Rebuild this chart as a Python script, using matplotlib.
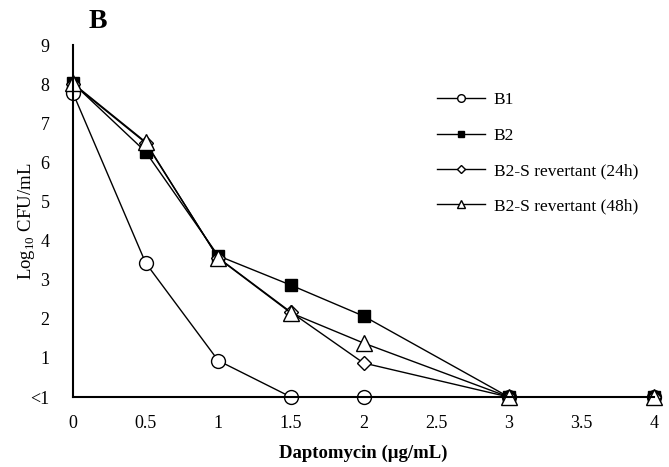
import matplotlib
matplotlib.use("Agg")
import matplotlib.pyplot as plt

plt.rcParams['font.family'] = ['Liberation Serif', 'DejaVu Serif']
plt.rcParams['mathtext.fontset'] = 'custom'
plt.rcParams['mathtext.rm'] = 'Liberation Serif'

# daptomycin concentration (ug/mL)
conc = [0, 0.5, 1, 1.5, 2, 3, 4]
# log10 CFU/mL, 0 means below detection (<1)
b1 = [7.77, 3.43, 0.93, 0, 0, 0, 0]
b2 = [8.02, 6.27, 3.61, 2.86, 2.07, 0, 0]
b2s_24 = [8.0, 6.5, 3.56, 2.17, 0.87, 0, 0]
b2s_48 = [8.02, 6.52, 3.55, 2.15, 1.38, 0, 0]

xticks = [0, 0.5, 1, 1.5, 2, 2.5, 3, 3.5, 4]
xtick_labels = ['0', '0.5', '1', '1.5', '2', '2.5', '3', '3.5', '4']
yticks = list(range(10))
ytick_labels = ['<1', '1', '2', '3', '4', '5', '6', '7', '8', '9']

fig = plt.figure(figsize=(6.69, 4.67), dpi=100)
ax = fig.add_axes([73/669, 70/467, 581/669, 352/467])

lw = 1.0
ax.plot(conc, b1, color='black', lw=lw, marker='o', ms=10, mfc='white', mec='black', mew=1.0,
        clip_on=False, label='B1')
ax.plot(conc, b2, color='black', lw=lw, marker='s', ms=9, mfc='black', mec='black',
        clip_on=False, label='B2')
ax.plot(conc, b2s_24, color='black', lw=lw, marker='D', ms=7, mfc='white', mec='black', mew=1.0,
        clip_on=False, label='B2-S revertant (24h)')
ax.plot(conc, b2s_48, color='black', lw=lw, marker='^', ms=11, mfc='white', mec='black', mew=1.0,
        clip_on=False, label='B2-S revertant (48h)')

ax.set_xlim(0, 4)
ax.set_ylim(0, 9)
ax.set_xticks(xticks)
ax.set_xticklabels(xtick_labels)
ax.set_yticks(yticks)
ax.set_yticklabels(ytick_labels)
ax.tick_params(length=0, labelsize=13)
ax.tick_params(axis='x', pad=13)
ax.tick_params(axis='y', pad=17)
for s in ['top', 'right']:
    ax.spines[s].set_visible(False)
for s in ['left', 'bottom']:
    ax.spines[s].set_linewidth(1.5)

ax.set_xlabel('Daptomycin (μg/mL)', fontsize=13.5, fontweight='bold', labelpad=9)
ax.set_ylabel(r'Log$_{10}$ CFU/mL', fontsize=13.5)
ax.yaxis.set_label_coords(-0.062, 0.5)

fig.text(98/669, 1 - 22/467, 'B', fontsize=20, fontweight='bold', ha='center', va='center')

handles, labels = ax.get_legend_handles_labels()
leg = ax.legend(handles, labels, loc='upper left', bbox_to_anchor=(0.600, 0.91), frameon=False,
                fontsize=12.5, handlelength=2.75, handletextpad=0.5, labelspacing=1.1,
                markerscale=0.55)
fig.savefig('out.png', dpi=100)
